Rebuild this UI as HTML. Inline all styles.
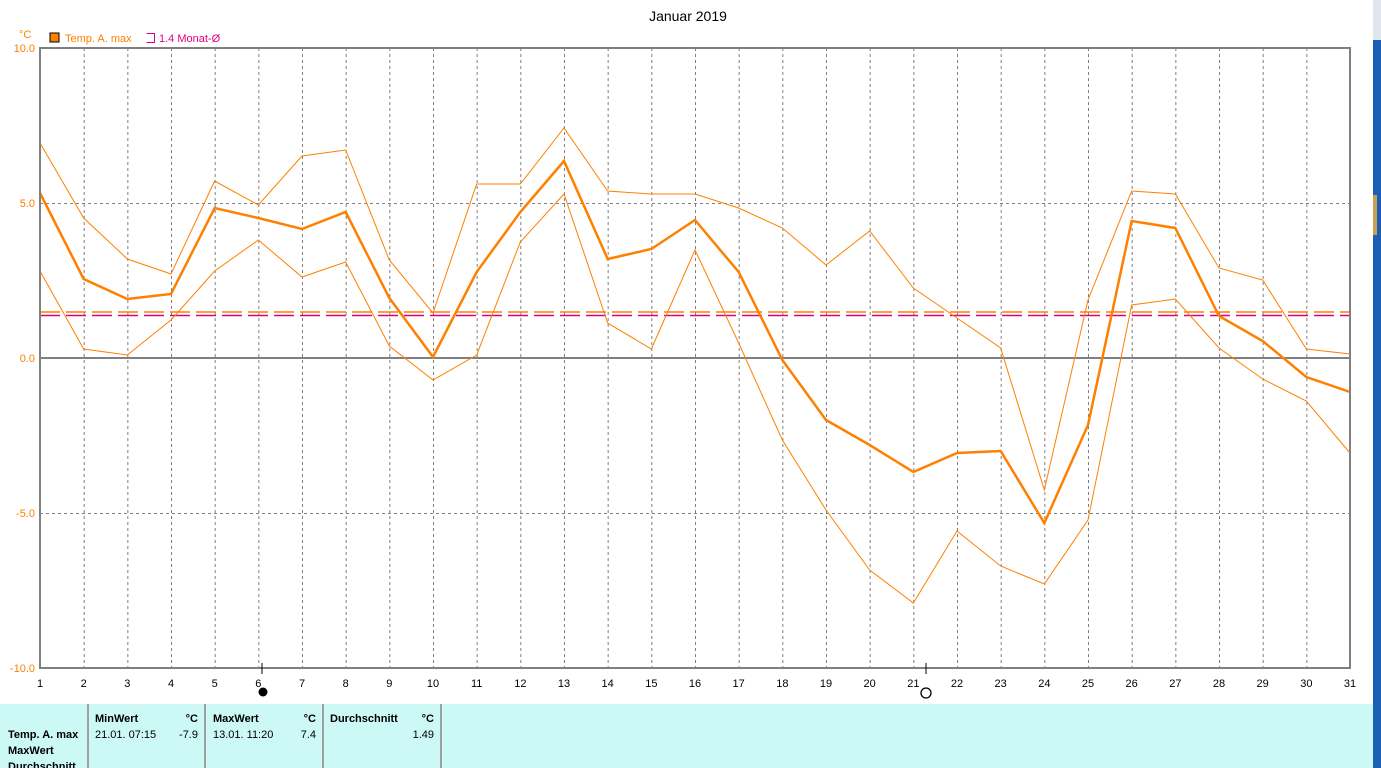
<!DOCTYPE html>
<html><head><meta charset="utf-8"><style>
body{margin:0;width:1381px;height:768px;overflow:hidden;background:#fff;font-family:"Liberation Sans",sans-serif;}
</style></head><body>
<svg width="1381" height="768" xmlns="http://www.w3.org/2000/svg" style="position:absolute;left:0;top:0">
<rect x="0" y="0" width="1373" height="768" fill="#fff"/>
<rect x="1373" y="0" width="8" height="768" fill="#1a5fb4"/>
<rect x="1373" y="0" width="8" height="40" fill="#dfe6ee"/>
<rect x="1373" y="195" width="4" height="40" fill="#c8a050"/>
<text x="688" y="21" font-size="14" text-anchor="middle" fill="#000">Januar 2019</text>
<text x="19" y="38" font-size="11" fill="#ff8000">°C</text>
<rect x="50" y="33" width="9" height="9" fill="#ff8000" stroke="#000" stroke-width="1"/>
<text x="65" y="42" font-size="11" fill="#ff8000">Temp. A. max</text>
<path d="M146.5 33.5h8v9h-8" fill="none" stroke="#e0007f"/>
<text x="159" y="42" font-size="11" fill="#e0007f">1.4 Monat-Ø</text>
<g font-size="11" fill="#ff8000" text-anchor="end">
<text x="35" y="52">10.0</text><text x="35" y="207">5.0</text><text x="35" y="362">0.0</text><text x="35" y="517">-5.0</text><text x="35" y="672">-10.0</text>
</g>
<g stroke="#808080" stroke-dasharray="3,3" stroke-width="1" id="grid"></g>
<line x1="40" y1="203.5" x2="1350" y2="203.5" stroke="#808080" stroke-dasharray="3,3"/>
<line x1="40" y1="513.5" x2="1350" y2="513.5" stroke="#808080" stroke-dasharray="3,3"/>
<line x1="40" y1="358" x2="1350" y2="358" stroke="#808080" stroke-width="2"/>
<line x1="40" y1="312" x2="1350" y2="312" stroke="#ff8000" stroke-width="1.5" stroke-dasharray="20,6"/>
<line x1="40" y1="315.5" x2="1350" y2="315.5" stroke="#e0007f" stroke-width="1.5" stroke-dasharray="20,6"/>
<g id="lines"></g>
<rect x="40" y="48" width="1310" height="620" fill="none" stroke="#808080" stroke-width="2"/>
<line x1="262" y1="663" x2="262" y2="674" stroke="#000"/>
<circle cx="263" cy="692" r="4.5" fill="#000"/>
<line x1="926" y1="663" x2="926" y2="674" stroke="#000"/>
<circle cx="926" cy="693" r="5" fill="none" stroke="#000" stroke-width="1.3"/>
<g id="xl" font-size="11" fill="#000" text-anchor="middle"></g>
<rect x="0" y="704" width="1373" height="64" fill="#ccf8f6"/>
<g stroke="#a0a0a0" stroke-width="2"><line x1="88" y1="704" x2="88" y2="768"/><line x1="205" y1="704" x2="205" y2="768"/><line x1="323" y1="704" x2="323" y2="768"/><line x1="441" y1="704" x2="441" y2="768"/></g>
<g font-size="11" fill="#000">
<text x="95" y="722" font-weight="bold">MinWert</text><text x="198" y="722" font-weight="bold" text-anchor="end">°C</text>
<text x="213" y="722" font-weight="bold">MaxWert</text><text x="316" y="722" font-weight="bold" text-anchor="end">°C</text>
<text x="330" y="722" font-weight="bold">Durchschnitt</text><text x="434" y="722" font-weight="bold" text-anchor="end">°C</text>
<text x="8" y="738" font-weight="bold">Temp. A. max</text>
<text x="95" y="738">21.01.  07:15</text><text x="198" y="738" text-anchor="end">-7.9</text>
<text x="213" y="738">13.01.  11:20</text><text x="316" y="738" text-anchor="end">7.4</text>
<text x="434" y="738" text-anchor="end">1.49</text>
<text x="8" y="754" font-weight="bold">MaxWert</text>
<text x="8" y="770" font-weight="bold">Durchschnitt</text>
</g>
</svg>
<script>
var ns="http://www.w3.org/2000/svg";
function X(d){return 40+(d-1)*1310/30;}
var g=document.getElementById("grid"),xl=document.getElementById("xl");
for(var d=1;d<=31;d++){
 if(d>1&&d<31){var l=document.createElementNS(ns,"line");l.setAttribute("x1",X(d)+.5);l.setAttribute("x2",X(d)+.5);l.setAttribute("y1",48);l.setAttribute("y2",668);g.appendChild(l);}
 var t=document.createElementNS(ns,"text");t.setAttribute("x",X(d));t.setAttribute("y",687);t.textContent=d;xl.appendChild(t);
}
var main=[193,279,299,294,208,218,229,212,298,357,272,212,161,259,249,220,272,360,420,445,472,453,451,523,425,221,228,316,341,377,392];
var up=[143,218,259,274,181,205,156,150,260,313,184,184,128,191,194,194,208,228,265,231,288,318,348,490,300,191,194,268,280,349,354];
var lo=[271,349,355,320,271,240,277,262,346,380,355,242,194,323,349,250,343,440,510,570,603,531,566,584,520,305,299,348,379,401,453];
var L=document.getElementById("lines");
function pl(a,w){var p=document.createElementNS(ns,"polyline");p.setAttribute("points",a.map(function(y,i){return X(i+1)+","+y}).join(" "));p.setAttribute("fill","none");p.setAttribute("stroke","#ff8000");p.setAttribute("stroke-width",w);L.appendChild(p);}
pl(up,1);pl(lo,1);pl(main,2.5);
</script>
</body></html>
